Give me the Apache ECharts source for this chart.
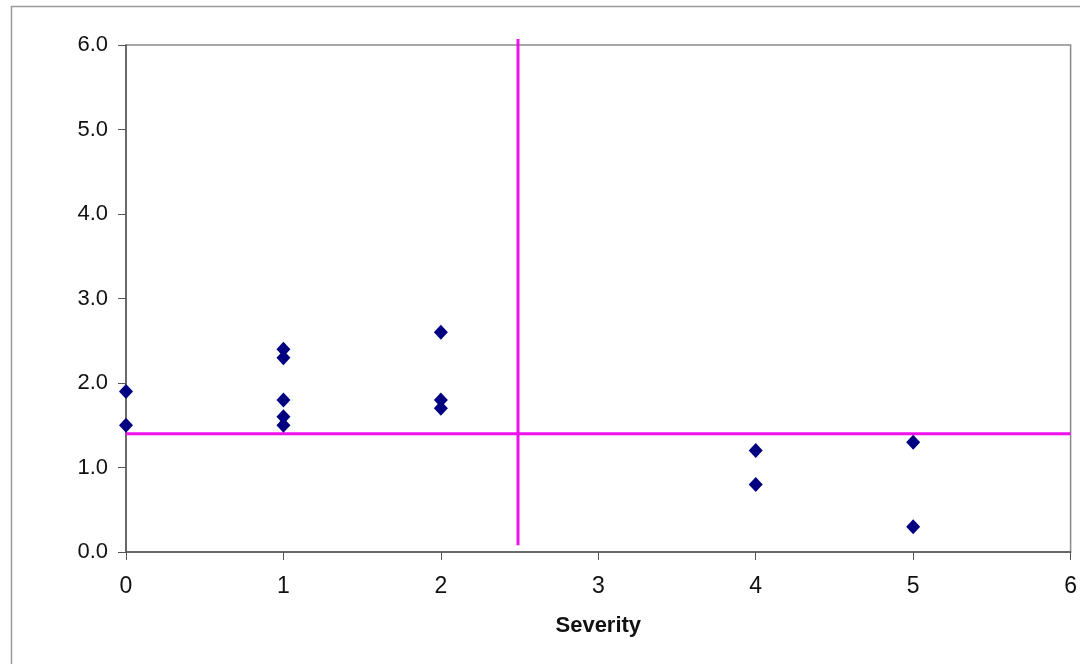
<!DOCTYPE html>
<html>
<head>
<meta charset="utf-8">
<script src="https://cdn.jsdelivr.net/npm/echarts@6/dist/echarts.min.js"></script>
<style>
  html, body { margin: 0; padding: 0; background: #ffffff; }
  #chart { width: 1080px; height: 664px; }
</style>
</head>
<body>
<div id="chart"></div>
<script>
// Observations: severity (x) against score (y)
const severity = [0, 0, 1, 1, 1, 1, 1, 2, 2, 2, 4, 4, 5, 5];
const score    = [1.9, 1.5, 2.4, 2.3, 1.8, 1.6, 1.5, 2.6, 1.8, 1.7, 1.2, 0.8, 1.3, 0.3];

// Reference lines splitting the plot into quadrants
const hLineX = [0, 6];
const hLineY = [1.4, 1.4];
const vLineX = [2.49, 2.49];
const vLineY = [0.08, 6.07];

const points = severity.map((s, i) => [s, score[i]]);
const hLine = hLineX.map((x, i) => [x, hLineY[i]]);
const vLine = vLineX.map((x, i) => [x, vLineY[i]]);

const chart = echarts.init(document.getElementById('chart'), null, { renderer: 'canvas' });

chart.setOption({
  animation: false,
  backgroundColor: '#ffffff',
  graphic: [{
    type: 'rect',
    shape: { x: 11.5, y: 6.5, width: 1100, height: 700 },
    style: { fill: 'none', stroke: '#9a9a9a', lineWidth: 1.5 },
    silent: true
  }],
  grid: {
    left: 126, top: 45, right: 7, bottom: 112,
    show: true, borderColor: '#8a8a8a', borderWidth: 1.5, backgroundColor: 'transparent'
  },
  xAxis: {
    type: 'value', min: 0, max: 6, interval: 1,
    name: 'Severity', nameLocation: 'middle', nameGap: 63,
    nameTextStyle: { fontFamily: 'Liberation Sans', fontSize: 22, fontWeight: 'bold', color: '#111' },
    axisLine: { show: true, onZero: false, lineStyle: { color: '#555', width: 1.5 } },
    axisTick: { show: true, inside: false, length: 8, lineStyle: { color: '#555' } },
    axisLabel: { margin: 23, fontFamily: 'Liberation Sans', fontSize: 23, color: '#111' },
    splitLine: { show: false }
  },
  yAxis: {
    type: 'value', min: 0, max: 6, interval: 1,
    axisLine: { show: true, onZero: false, lineStyle: { color: '#555', width: 1.5 } },
    axisTick: { show: true, inside: false, length: 8, lineStyle: { color: '#555' } },
    axisLabel: {
      margin: 18, fontFamily: 'Liberation Sans', fontSize: 22, color: '#111',
      formatter: v => v.toFixed(1)
    },
    splitLine: { show: false }
  },
  series: [
    {
      type: 'line', data: hLine, symbol: 'none', clip: false,
      lineStyle: { color: '#ee11ee', width: 3 }, z: 3
    },
    {
      type: 'line', data: vLine, symbol: 'none', clip: false,
      lineStyle: { color: '#ee11ee', width: 3 }, z: 3
    },
    {
      type: 'scatter', data: points, symbol: 'diamond', symbolSize: [14, 15],
      itemStyle: { color: '#000080', opacity: 1 }, z: 4
    }
  ]
});
</script>
</body>
</html>
